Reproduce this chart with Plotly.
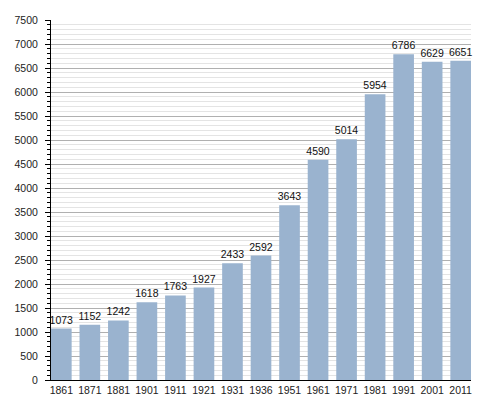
import plotly.graph_objects as go

years = ["1861", "1871", "1881", "1901", "1911", "1921", "1931", "1936",
         "1951", "1961", "1971", "1981", "1991", "2001", "2011"]
population = [1073, 1152, 1242, 1618, 1763, 1927, 2433, 2592,
              3643, 4590, 5014, 5954, 6786, 6629, 6651]

gap = 0.276
fig = go.Figure()
fig.add_trace(go.Bar(x=years, y=population, text=population, textposition="outside",
                     marker=dict(color="#9ab3cf", line=dict(width=0)),
                     textfont=dict(size=10.5, color="#111", family="Liberation Sans"),
                     cliponaxis=False))

fig.update_layout(
    width=500, height=400,
    margin=dict(l=51, r=29, t=20, b=20),
    plot_bgcolor="white", paper_bgcolor="white",
    bargap=gap, showlegend=False,
    uniformtext=dict(minsize=10, mode="show"),
    font=dict(family="Liberation Sans", size=10.5, color="#222"),
)
# bars sit flush against both plot edges
fig.update_xaxes(type="category", range=[-0.5 + gap / 2, len(years) - 0.5 - gap / 2],
                 showline=True, linecolor="black", linewidth=1, automargin=False,
                 ticks="", showgrid=False, tickfont=dict(size=10.5))
fig.update_yaxes(range=[0, 7500], dtick=500, showline=True, linecolor="black", linewidth=1,
                 ticks="outside", ticklen=5, tickcolor="black", automargin=False,
                 ticklabelstandoff=5,
                 gridcolor="#b0b0b0", gridwidth=1, zeroline=False,
                 minor=dict(dtick=100, ticks="outside", ticklen=3, tickcolor="black",
                            showgrid=True, gridcolor="#e4e4e4", gridwidth=1),
                 tickfont=dict(size=10.5))

# drop the default page margin so the 500x400 figure fills the window exactly
fig.write_html("out.html", config={"displayModeBar": False},
               post_script="document.body.style.margin='0';")
